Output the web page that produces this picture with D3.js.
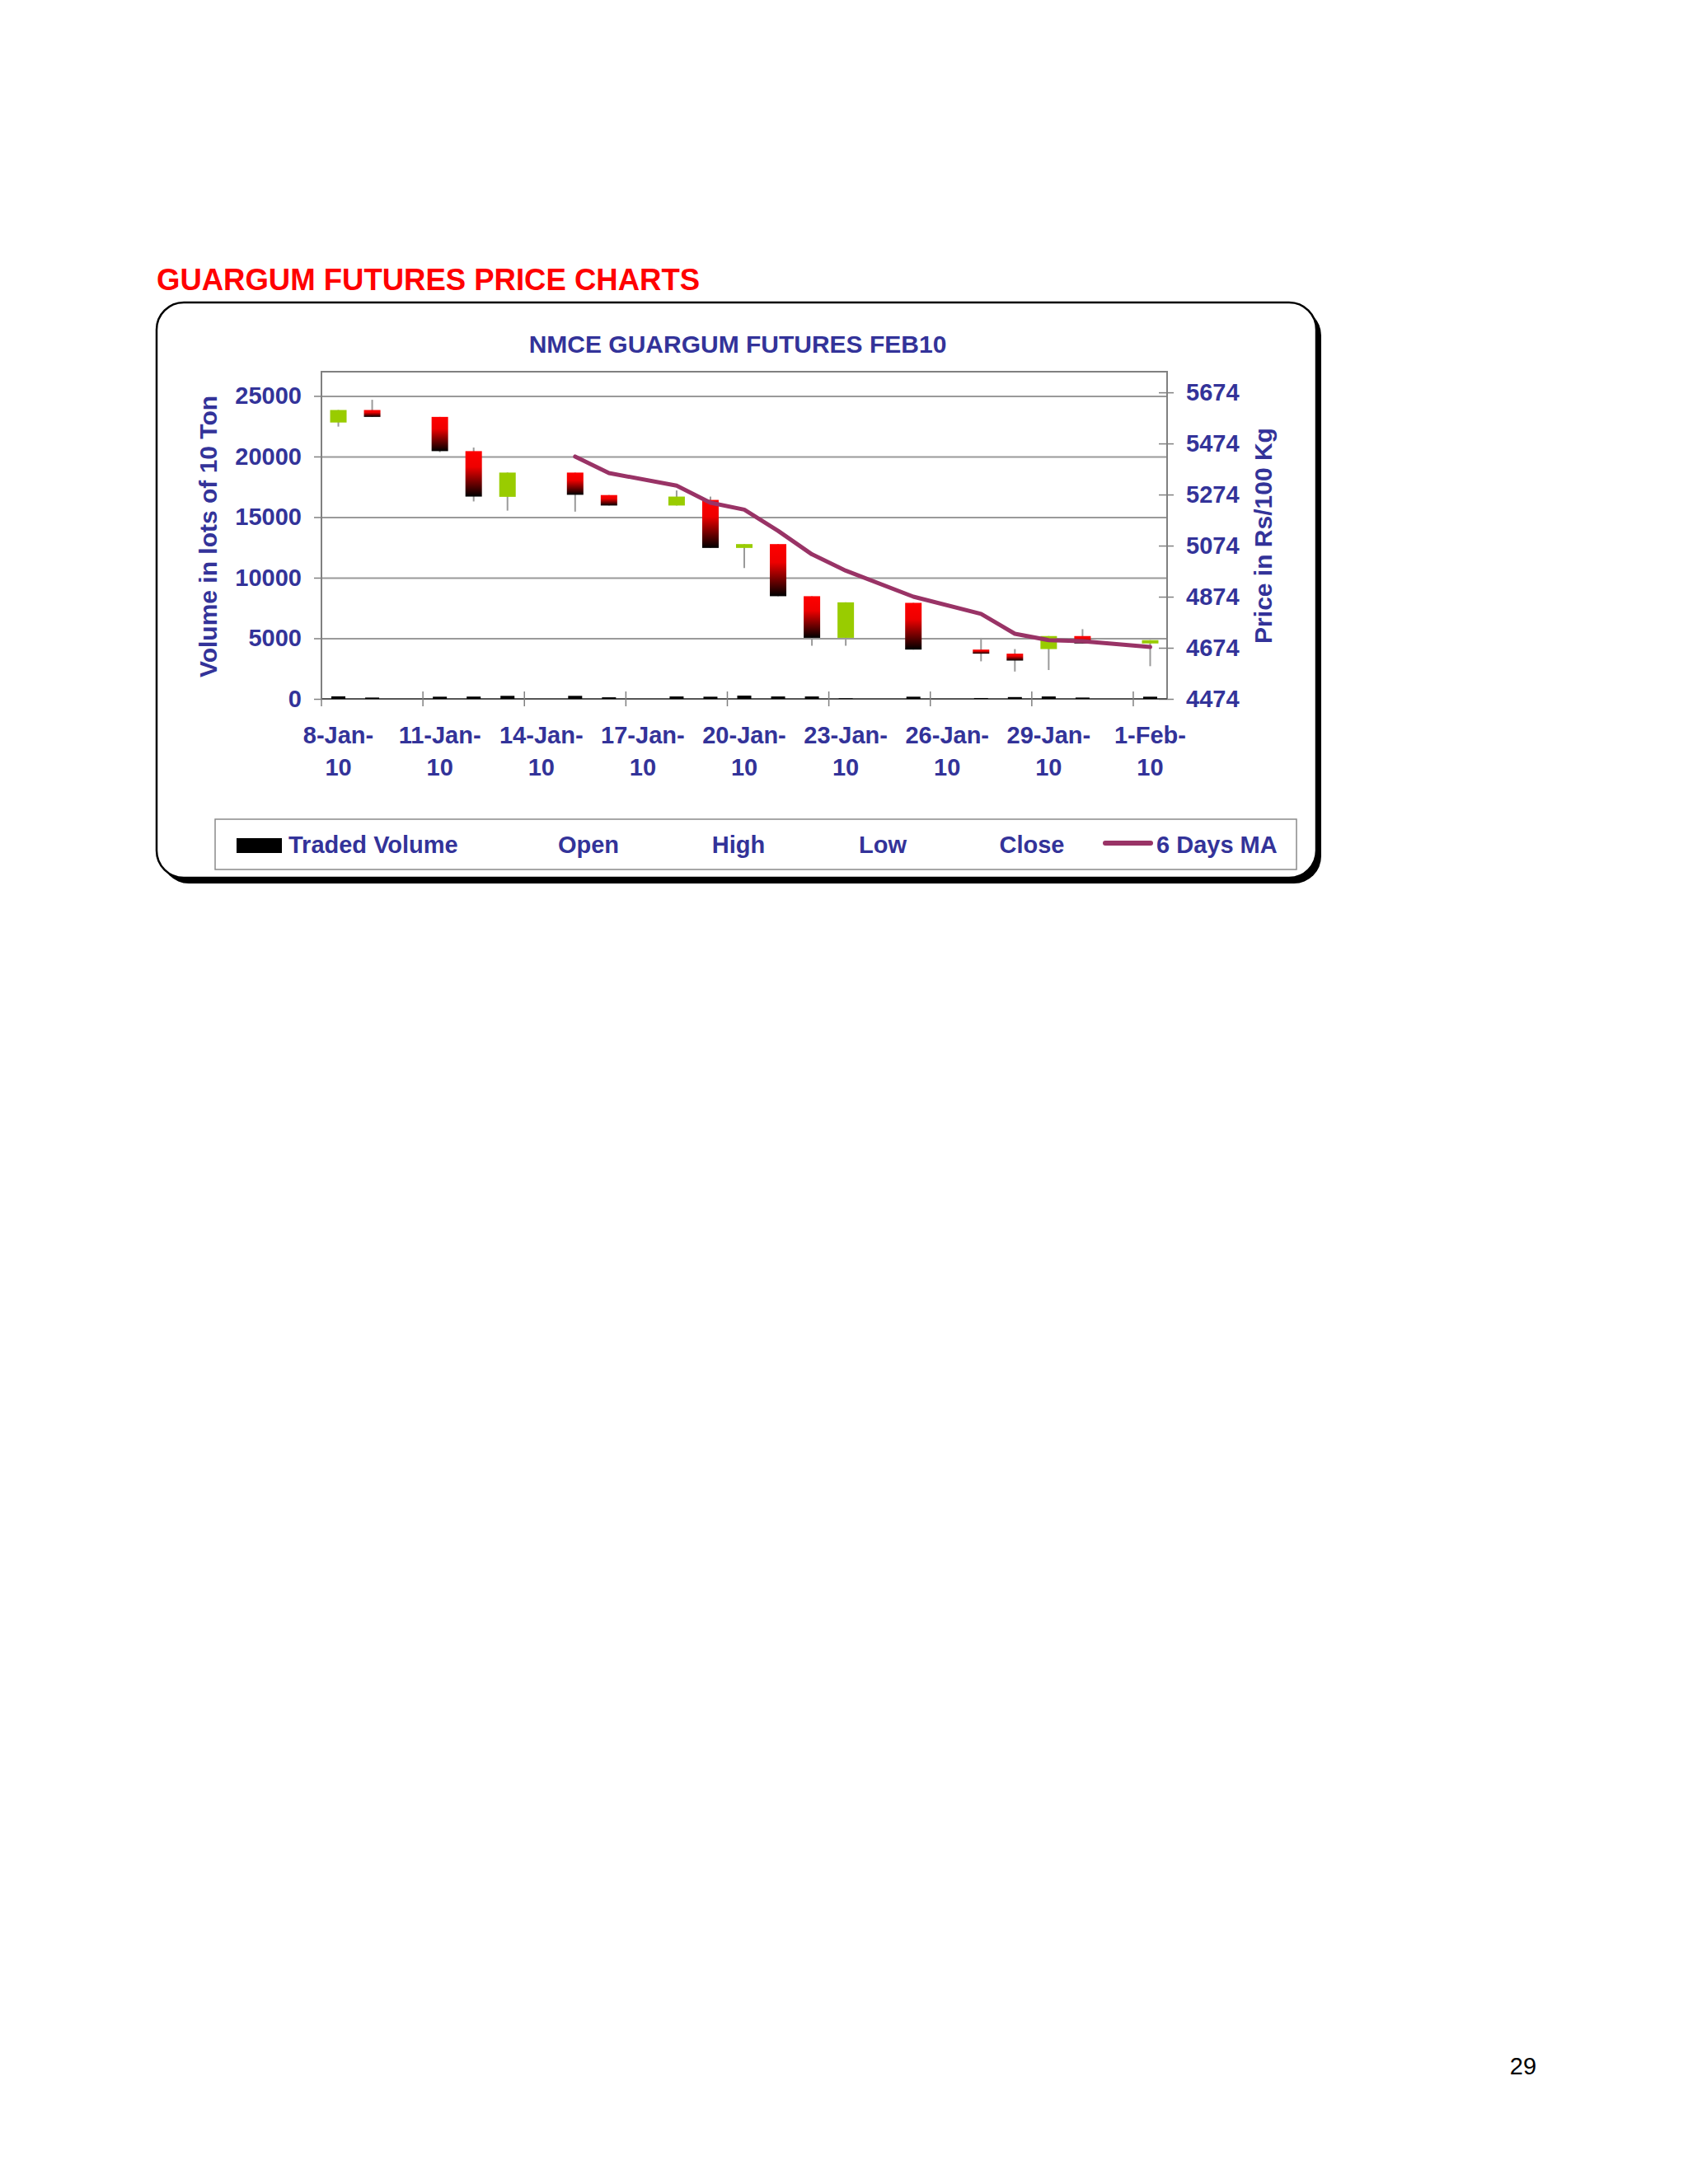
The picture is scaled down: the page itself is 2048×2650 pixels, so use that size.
<!DOCTYPE html>
<html>
<head>
<meta charset="utf-8">
<script src="https://cdn.jsdelivr.net/npm/d3@7"></script>
<style>
  body { margin: 0; background: #ffffff; }
  text { font-family: "Liberation Sans", Arial, sans-serif; }
</style>
</head>
<body>
<div id="chart"></div>
<script>
// calendar days on the date axis (8-Jan-10 .. 1-Feb-10)
const allDays = [
    "8-Jan-10", "9-Jan-10", "10-Jan-10", "11-Jan-10", "12-Jan-10", "13-Jan-10", "14-Jan-10",
    "15-Jan-10", "16-Jan-10", "17-Jan-10", "18-Jan-10", "19-Jan-10", "20-Jan-10", "21-Jan-10",
    "22-Jan-10", "23-Jan-10", "24-Jan-10", "25-Jan-10", "26-Jan-10", "27-Jan-10", "28-Jan-10",
    "29-Jan-10", "30-Jan-10", "31-Jan-10", "1-Feb-10"
];

// trading days and their values
const tradeDays = [
    "8-Jan-10", "9-Jan-10", "11-Jan-10", "12-Jan-10", "13-Jan-10", "15-Jan-10", "16-Jan-10",
    "18-Jan-10", "19-Jan-10", "20-Jan-10", "21-Jan-10", "22-Jan-10", "23-Jan-10", "25-Jan-10",
    "27-Jan-10", "28-Jan-10", "29-Jan-10", "30-Jan-10", "1-Feb-10"
];
const openPx  = [5556, 5605, 5578, 5444, 5265, 5360, 5272, 5231, 5253, 5065, 5080, 4876, 4713, 4850, 4667, 4651, 4669, 4720, 4691];
const highPx  = [5605, 5645, 5578, 5458, 5360, 5360, 5272, 5290, 5266, 5080, 5080, 4876, 4852, 4850, 4713, 4669, 4720, 4747, 4704];
const lowPx   = [5540, 5578, 5440, 5247, 5211, 5207, 5231, 5231, 5065, 4986, 4876, 4682, 4682, 4667, 4621, 4581, 4587, 4691, 4602];
const closePx = [5605, 5578, 5444, 5266, 5360, 5273, 5231, 5266, 5065, 5080, 4876, 4713, 4852, 4667, 4651, 4624, 4720, 4691, 4704];
const volume  = [210, 110, 180, 190, 250, 250, 130, 200, 180, 270, 200, 200, 50, 180, 70, 150, 200, 110, 180];
const ma6     = [null, null, null, null, null, 5423, 5358, 5309, 5242, 5215, 5132, 5040, 4976, 4874, 4807, 4729, 4704, 4700, 4677];

const volTicks = [0, 5000, 10000, 15000, 20000, 25000];
const priceTicks = [4474, 4674, 4874, 5074, 5274, 5474, 5674];
const labelDays = allDays.filter((d, i) => i % 3 === 0);

const legendItems = ["Traded Volume", "Open", "High", "Low", "Close", "6 Days MA"];

const navy = "#333399";
const width = 2048;
const height = 2650;
const plot = { left: 390, right: 1416, top: 451, bottom: 848 };

const svg = d3.select("#chart")
    .append("svg")
    .attr("width", width)
    .attr("height", height);

// gradient for falling candles
const defs = svg.append("defs");
const grad = defs.append("linearGradient")
    .attr("id", "downGrad")
    .attr("x1", 0).attr("y1", 0).attr("x2", 0).attr("y2", 1);
grad.append("stop").attr("offset", "0%").attr("stop-color", "#ff0000");
grad.append("stop").attr("offset", "35%").attr("stop-color", "#ee0000");
grad.append("stop").attr("offset", "100%").attr("stop-color", "#000000");

// page heading
svg.append("text")
    .attr("x", 190)
    .attr("y", 352)
    .attr("fill", "#ff0000")
    .attr("font-size", 36.5)
    .attr("font-weight", "bold")
    .text("GUARGUM FUTURES PRICE CHARTS");

// rounded frame with shadow
svg.append("rect")
    .attr("x", 196).attr("y", 374)
    .attr("width", 1407).attr("height", 698)
    .attr("rx", 33)
    .attr("fill", "#000");
svg.append("rect")
    .attr("x", 190).attr("y", 367)
    .attr("width", 1407).attr("height", 698)
    .attr("rx", 33)
    .attr("fill", "#fff")
    .attr("stroke", "#000")
    .attr("stroke-width", 2.5);

// chart title
svg.append("text")
    .attr("x", 895)
    .attr("y", 428)
    .attr("text-anchor", "middle")
    .attr("fill", navy)
    .attr("font-size", 30)
    .attr("font-weight", "bold")
    .text("NMCE GUARGUM FUTURES FEB10");

// scales
const x = d3.scaleBand()
    .domain(allDays)
    .range([plot.left, plot.right])
    .padding(0);

const yVol = d3.scaleLinear()
    .domain([0, 27000])
    .range([plot.bottom, plot.top]);

const yPx = d3.scaleLinear()
    .domain([4474, 5755])
    .range([plot.bottom, plot.top]);

const cx = d => x(d) + x.bandwidth() / 2;

// gridlines
svg.append("g")
    .attr("transform", `translate(${plot.left}, 0)`)
    .call(d3.axisLeft(yVol).tickValues(volTicks.slice(1)).tickSize(-(plot.right - plot.left)).tickFormat(""))
    .call(g => g.select(".domain").remove())
    .call(g => g.selectAll("line").attr("stroke", "#9a9a9a").attr("stroke-width", 2));

// plot border
svg.append("rect")
    .attr("x", plot.left).attr("y", plot.top)
    .attr("width", plot.right - plot.left).attr("height", plot.bottom - plot.top)
    .attr("fill", "none")
    .attr("stroke", "#808080")
    .attr("stroke-width", 2);

// left axis
svg.append("g")
    .attr("transform", `translate(${plot.left}, 0)`)
    .call(d3.axisLeft(yVol).tickValues(volTicks).tickSize(9).tickPadding(15).tickFormat(d3.format("d")))
    .call(g => g.select(".domain").remove())
    .call(g => g.selectAll("line").attr("stroke", "#808080").attr("stroke-width", 1.5))
    .call(g => g.selectAll("text")
        .attr("fill", navy)
        .attr("font-size", 29)
        .attr("font-weight", "bold")
        .attr("font-family", "Liberation Sans, Arial, sans-serif"));

// right axis
svg.append("g")
    .attr("transform", `translate(${plot.right}, 0)`)
    .call(d3.axisRight(yPx).tickValues(priceTicks).tickSize(8).tickPadding(15).tickFormat(d3.format("d")))
    .call(g => g.select(".domain").remove())
    .call(g => g.selectAll("line").attr("x1", -10).attr("stroke", "#808080").attr("stroke-width", 1.5))
    .call(g => g.selectAll("text")
        .attr("fill", navy)
        .attr("font-size", 29)
        .attr("font-weight", "bold")
        .attr("font-family", "Liberation Sans, Arial, sans-serif"));

// bottom axis line
svg.append("line")
    .attr("x1", plot.left).attr("x2", plot.right)
    .attr("y1", plot.bottom).attr("y2", plot.bottom)
    .attr("stroke", "#555")
    .attr("stroke-width", 2);

// date ticks on category boundaries
svg.selectAll(".dtick")
    .data(labelDays)
    .enter()
    .append("line")
    .attr("class", "dtick")
    .attr("x1", d => x(d)).attr("x2", d => x(d))
    .attr("y1", plot.bottom - 9).attr("y2", plot.bottom + 9)
    .attr("stroke", "#808080")
    .attr("stroke-width", 1.5);

// date labels in two lines
svg.append("g")
    .attr("transform", `translate(0, ${plot.bottom})`)
    .call(d3.axisBottom(x).tickValues(labelDays).tickSize(0))
    .call(g => g.select(".domain").remove())
    .call(g => g.selectAll("text").each(function(d) {
        const parts = d.split("-");
        const t = d3.select(this)
            .attr("y", null).attr("dy", null)
            .attr("fill", navy)
            .attr("font-size", 29)
            .attr("font-weight", "bold")
            .attr("font-family", "Liberation Sans, Arial, sans-serif")
            .text(null);
        t.append("tspan").attr("x", 0).attr("y", 54).text(parts[0] + "-" + parts[1] + "-");
        t.append("tspan").attr("x", 0).attr("y", 93).text(parts[2]);
    }));

// axis titles
svg.append("text")
    .attr("transform", "translate(263, 651) rotate(-90)")
    .attr("text-anchor", "middle")
    .attr("fill", navy)
    .attr("font-size", 30)
    .attr("font-weight", "bold")
    .text("Volume in lots of 10 Ton");

svg.append("text")
    .attr("transform", "translate(1543, 650) rotate(-90)")
    .attr("text-anchor", "middle")
    .attr("fill", navy)
    .attr("font-size", 30)
    .attr("font-weight", "bold")
    .text("Price in Rs/100 Kg");

// traded volume bars
svg.selectAll(".vol")
    .data(tradeDays)
    .enter()
    .append("rect")
    .attr("class", "vol")
    .attr("x", d => cx(d) - 8.5)
    .attr("width", 17)
    .attr("y", (d, i) => yVol(volume[i]))
    .attr("height", (d, i) => yVol(0) - yVol(volume[i]))
    .attr("fill", "#000");

// wicks
svg.selectAll(".wick")
    .data(tradeDays)
    .enter()
    .append("line")
    .attr("class", "wick")
    .attr("x1", cx).attr("x2", cx)
    .attr("y1", (d, i) => yPx(highPx[i]))
    .attr("y2", (d, i) => yPx(lowPx[i]))
    .attr("stroke", "#9a9a9a")
    .attr("stroke-width", 2);

// candle bodies
svg.selectAll(".body")
    .data(tradeDays)
    .enter()
    .append("rect")
    .attr("class", "body")
    .attr("x", d => cx(d) - 10)
    .attr("width", 20)
    .attr("y", (d, i) => yPx(Math.max(openPx[i], closePx[i])))
    .attr("height", (d, i) => Math.max(1, Math.abs(yPx(openPx[i]) - yPx(closePx[i]))))
    .attr("fill", (d, i) => closePx[i] >= openPx[i] ? "#99cc00" : "url(#downGrad)");

// 6 days moving average
const maLine = d3.line()
    .defined((d, i) => ma6[i] !== null)
    .x(d => cx(d))
    .y((d, i) => yPx(ma6[i]));

svg.append("path")
    .datum(tradeDays)
    .attr("d", maLine)
    .attr("fill", "none")
    .attr("stroke", "#993366")
    .attr("stroke-width", 5)
    .attr("stroke-linejoin", "round")
    .attr("stroke-linecap", "round");

// legend
svg.append("rect")
    .attr("x", 261).attr("y", 994)
    .attr("width", 1312).attr("height", 61)
    .attr("fill", "#fff")
    .attr("stroke", "#8a8a8a")
    .attr("stroke-width", 1.5);

svg.append("rect")
    .attr("x", 287).attr("y", 1017)
    .attr("width", 55).attr("height", 18)
    .attr("fill", "#000");

svg.append("line")
    .attr("x1", 1341).attr("x2", 1396)
    .attr("y1", 1023).attr("y2", 1023)
    .attr("stroke", "#993366")
    .attr("stroke-width", 6)
    .attr("stroke-linecap", "round");

const legendPos = [
    { x: 350, anchor: "start" },
    { x: 714, anchor: "middle" },
    { x: 896, anchor: "middle" },
    { x: 1071, anchor: "middle" },
    { x: 1252, anchor: "middle" },
    { x: 1403, anchor: "start" }
];

svg.selectAll(".legtext")
    .data(legendItems)
    .enter()
    .append("text")
    .attr("class", "legtext")
    .attr("x", (d, i) => legendPos[i].x)
    .attr("y", 1035)
    .attr("text-anchor", (d, i) => legendPos[i].anchor)
    .attr("fill", navy)
    .attr("font-size", 29)
    .attr("font-weight", "bold")
    .text(d => d);

// page number
svg.append("text")
    .attr("x", 1848)
    .attr("y", 2517)
    .attr("text-anchor", "middle")
    .attr("fill", "#000")
    .attr("font-size", 29)
    .text("29");
</script>
</body>
</html>
